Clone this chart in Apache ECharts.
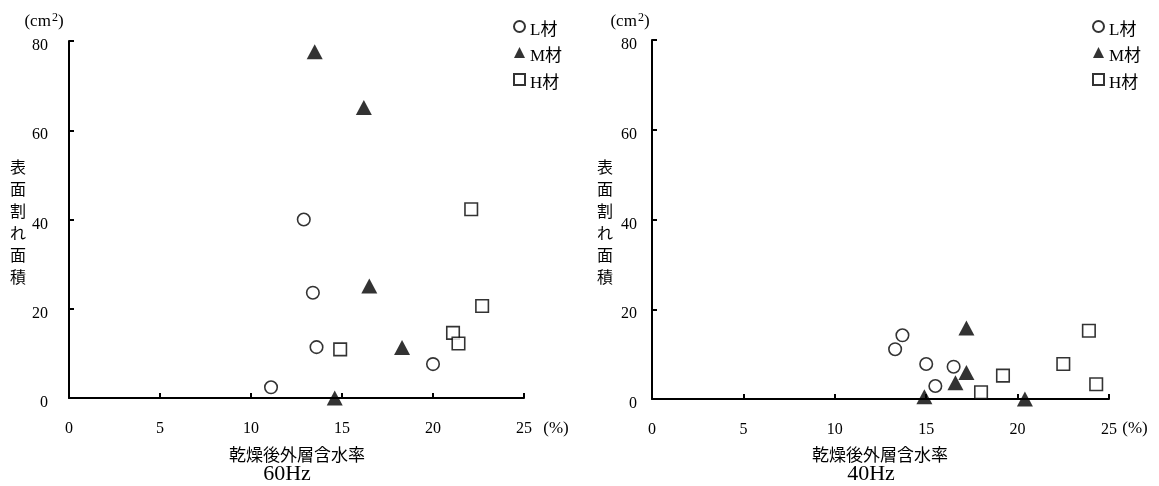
<!DOCTYPE html>
<html>
<head>
<meta charset="utf-8">
<script src="https://cdn.jsdelivr.net/npm/echarts@6/dist/echarts.min.js"></script>
<style>
html,body{margin:0;padding:0;background:#fff;}
#c{width:1159px;height:486px;}
</style>
</head>
<body>
<div id="c"></div>
<script>
// ---- data (x: 乾燥後外層含水率 %, y: 表面割れ面積 cm2) ----
const seriesNames = ['L材', 'M材', 'H材'];
const panelTitles = ['60Hz', '40Hz'];
const xAxisTitle = '乾燥後外層含水率';
const yAxisTitle = '表面割れ面積';
const yUnitBase = '(cm';
const yUnitSup = '2';
const xUnit = '(%)';

const hz60_L = [[12.9, 40.0], [13.4, 23.6], [13.6, 11.4], [11.1, 2.4], [20.0, 7.6]];
const hz60_M = [[13.5, 77.6], [16.2, 65.1], [16.5, 25.1], [18.3, 11.3], [14.6, 0.0]];
const hz60_H = [[22.1, 42.3], [22.7, 20.6], [21.1, 14.6], [21.4, 12.2], [14.9, 10.9]];

const hz40_L = [[13.3, 11.1], [13.7, 14.2], [15.0, 7.8], [15.5, 2.9], [16.5, 7.2]];
const hz40_M = [[17.2, 15.8], [17.2, 5.9], [16.6, 3.6], [14.9, 0.5], [20.4, 0.0]];
const hz40_H = [[23.9, 15.2], [22.5, 7.8], [19.2, 5.2], [18.0, 1.5], [24.3, 3.3]];

const xMin = 0, xMax = 25, xStep = 5;
const yMin = 0, yMax = 80, yStep = 20;

// ---- styling ----
const SERIF = "'Liberation Serif','DejaVu Serif','Noto Sans CJK JP',serif";
const JP = "'Noto Sans CJK JP',sans-serif";

const markerStyles = [
  { symbol: 'circle', symbolSize: 12.5, itemStyle: { color: '#fff', borderColor: '#000', borderWidth: 1.6 } },
  { symbol: 'triangle', symbolSize: [16, 15], itemStyle: { color: '#000', borderColor: '#000', borderWidth: 0 } },
  { symbol: 'rect', symbolSize: 12.5, itemStyle: { color: '#fff', borderColor: '#000', borderWidth: 1.6 } }
];

const grids = [
  { left: 69, top: 41, width: 455, height: 357 },
  { left: 652, top: 40, width: 457, height: 359 }
];

function xAxisDef(i) {
  return {
    gridIndex: i, type: 'value', min: xMin, max: xMax, interval: xStep,
    axisLine: { lineStyle: { color: '#000', width: 2 } },
    axisTick: { inside: true, length: 5, lineStyle: { color: '#000', width: 2 } },
    splitLine: { show: false },
    axisLabel: { color: '#000', fontFamily: SERIF, fontSize: 16, margin: 23 }
  };
}
function yAxisDef(i, margin) {
  return {
    gridIndex: i, type: 'value', min: yMin, max: yMax, interval: yStep,
    axisLine: { show: true, lineStyle: { color: '#000', width: 2 } },
    axisTick: { show: true, inside: true, length: 5, lineStyle: { color: '#000', width: 2 } },
    splitLine: { show: false },
    axisLabel: {
      color: '#000', fontFamily: SERIF, fontSize: 16, margin: margin,
      formatter: v => '{a|' + v + '}',
      rich: { a: { fontFamily: SERIF, fontSize: 16, color: '#000', padding: [10, 0, 0, 0] } }
    }
  };
}

const panelData = [[hz60_L, hz60_M, hz60_H], [hz40_L, hz40_M, hz40_H]];
const series = [];
panelData.forEach((sets, p) => {
  sets.forEach((d, k) => {
    series.push(Object.assign({
      type: 'scatter', name: seriesNames[k], xAxisIndex: p, yAxisIndex: p,
      data: d, clip: false, z: 5, emphasis: { disabled: true }
    }, markerStyles[k]));
  });
});

function legendDef(left) {
  return {
    data: seriesNames, orient: 'vertical', left: left, top: 15,
    itemWidth: 11, itemHeight: 11, itemGap: 7.5,
    formatter: n => '{t|' + n + '}',
    textStyle: {
      color: '#000', fontFamily: SERIF, fontSize: 17,
      rich: { t: { color: '#000', fontFamily: SERIF, fontSize: 17, padding: [9, 0, 0, 0] } }
    },
    selectedMode: false
  };
}

function txt(text, x, y, opts) {
  return {
    type: 'text', silent: true,
    style: Object.assign({ text: text, x: x, y: y, fill: '#000', align: 'center', verticalAlign: 'middle',
      fontFamily: SERIF, fontSize: 15 }, opts || {})
  };
}
const vTitle = yAxisTitle.split('').join('\n');
const unitRich = {
  b: { fontFamily: SERIF, fontSize: 17, color: '#000' },
  s: { fontFamily: SERIF, fontSize: 12, color: '#000', padding: [0, 0, 8, 1] }
};
const unitText = '{b|' + yUnitBase + '}{s|' + yUnitSup + '}{b|)}';

const graphic = [
  txt(unitText, 44, 22, { rich: unitRich }),
  txt(unitText, 630, 22, { rich: unitRich }),
  txt(vTitle, 18, 222, { fontFamily: JP, fontSize: 16, lineHeight: 22 }),
  txt(vTitle, 605, 222, { fontFamily: JP, fontSize: 16, lineHeight: 22 }),
  txt(xUnit, 556, 429, { fontSize: 17 }),
  txt(xUnit, 1135, 429, { fontSize: 17 }),
  txt(xAxisTitle, 297, 455, { fontFamily: JP, fontSize: 17 }),
  txt(xAxisTitle, 880, 455, { fontFamily: JP, fontSize: 17 }),
  txt(panelTitles[0], 287, 474, { fontSize: 22 }),
  txt(panelTitles[1], 871, 474, { fontSize: 22 })
];

const chart = echarts.init(document.getElementById('c'), null, { renderer: 'canvas' });
chart.setOption({
  backgroundColor: '#fff',
  animation: false,
  grid: grids,
  xAxis: [xAxisDef(0), xAxisDef(1)],
  yAxis: [yAxisDef(0, 21), yAxisDef(1, 15)],
  legend: [legendDef(508), legendDef(1087)],
  graphic: graphic,
  series: series
});
</script>
</body>
</html>
